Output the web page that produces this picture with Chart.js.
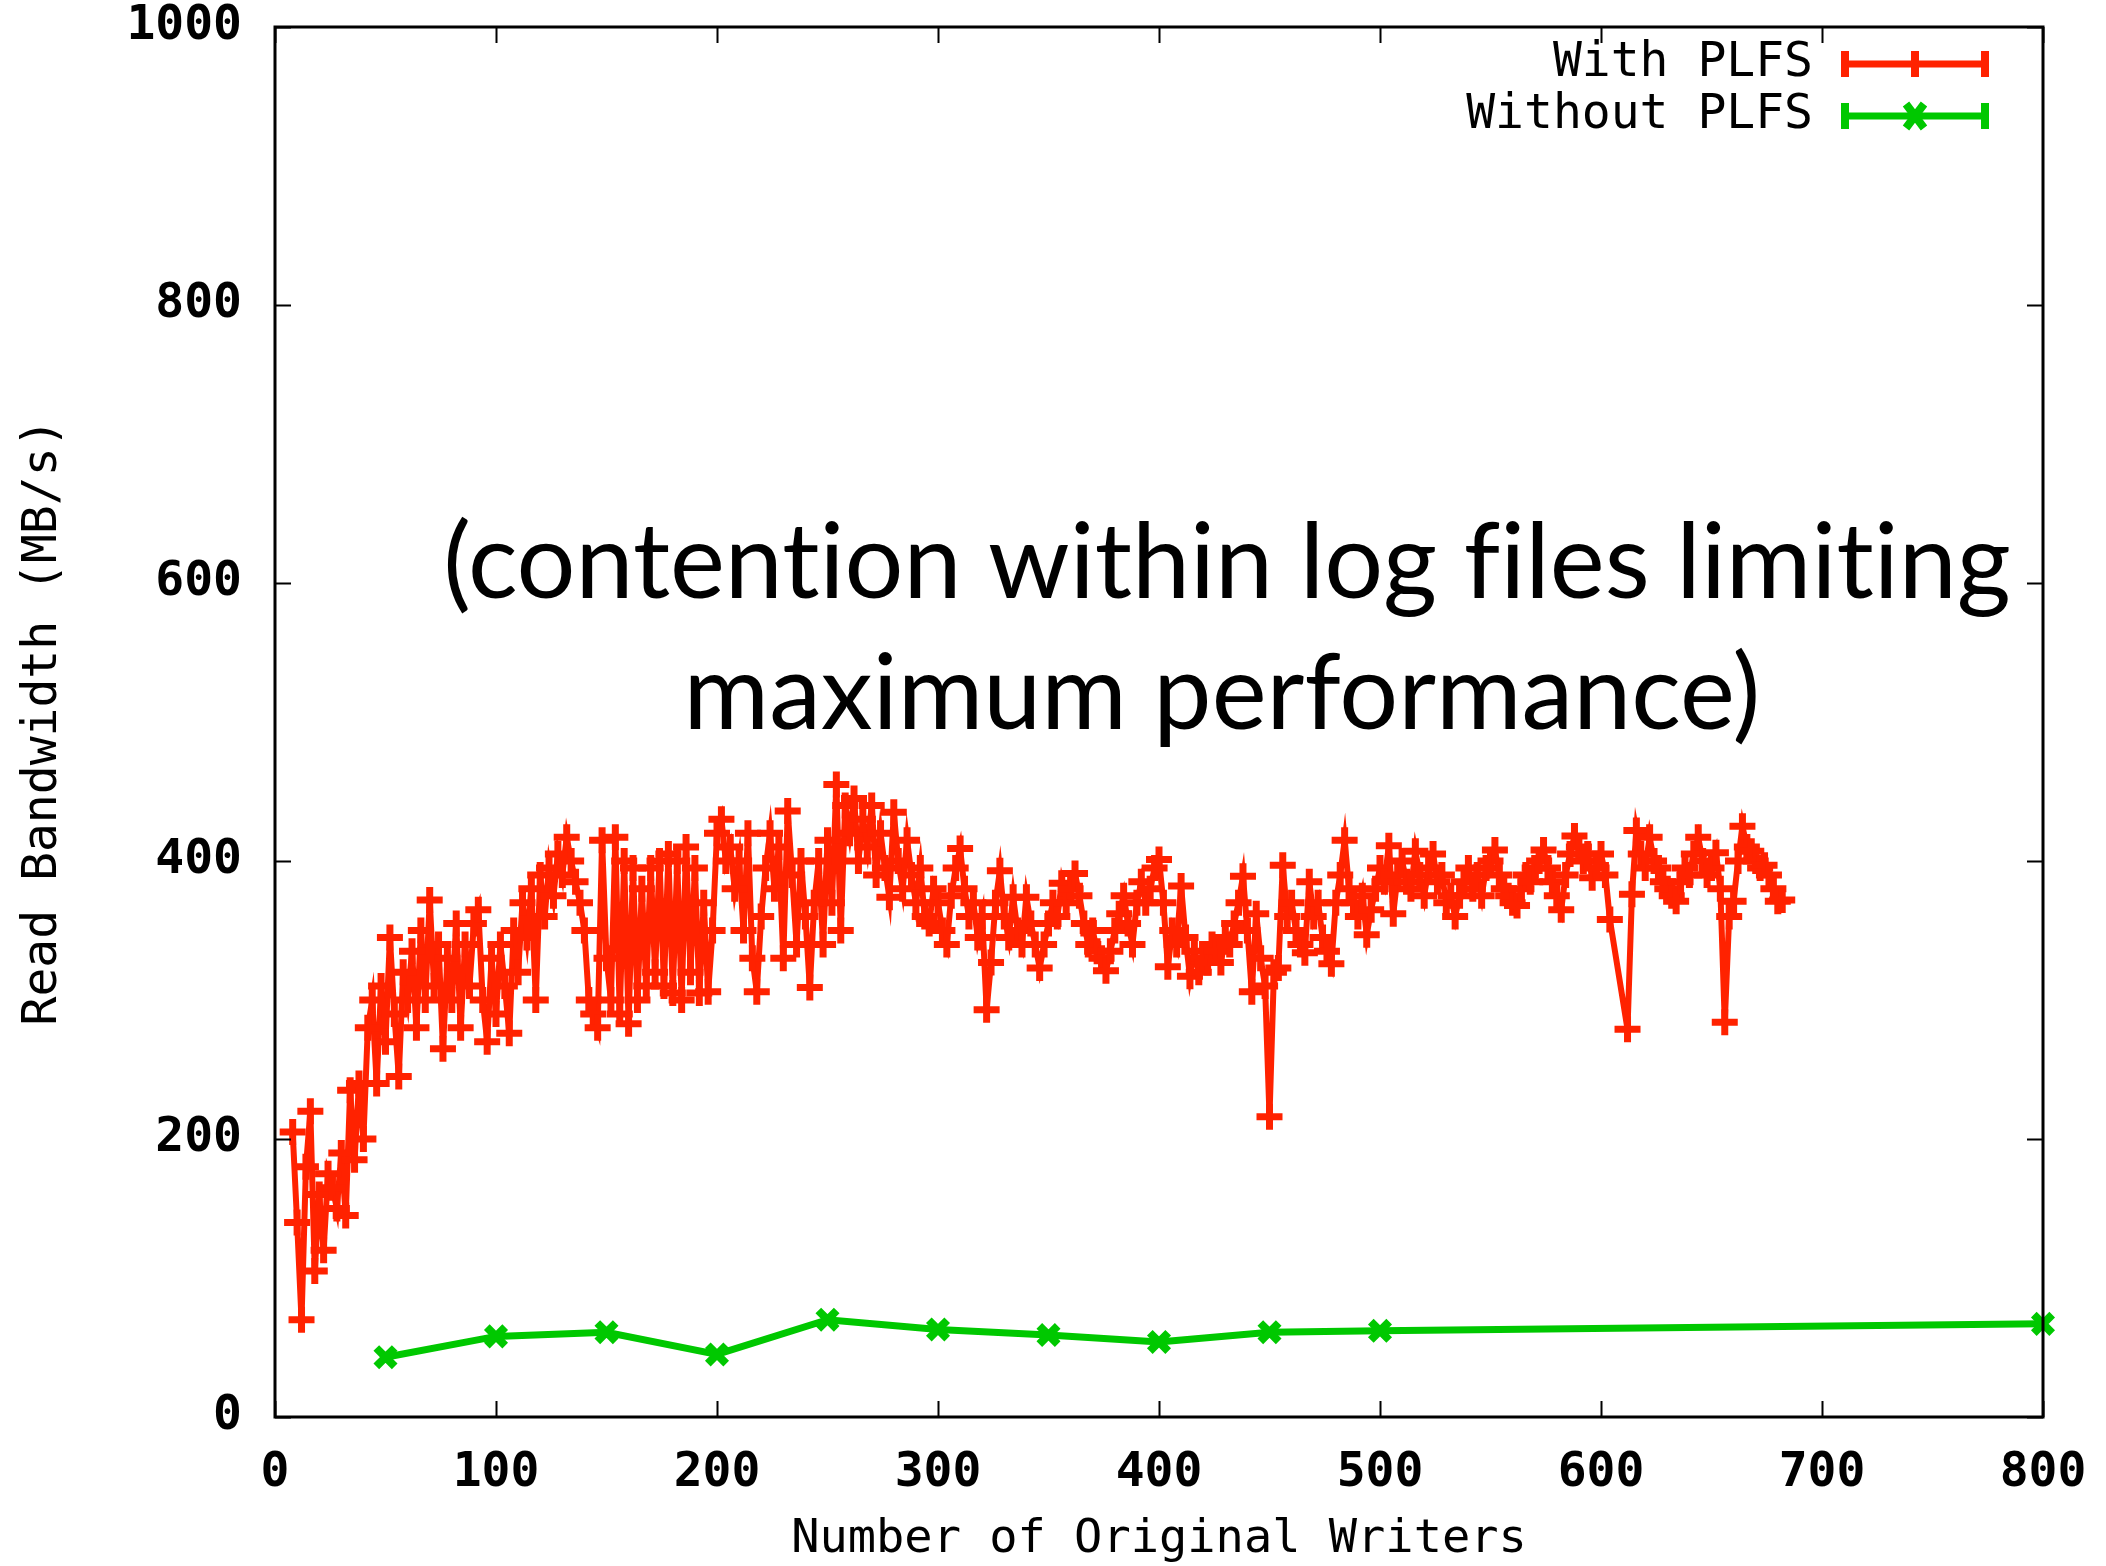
<!DOCTYPE html>
<html>
<head>
<meta charset="utf-8">
<script src="https://cdn.jsdelivr.net/npm/chart.js@4.4.0/dist/chart.umd.min.js"></script>
<style>
  html, body { margin: 0; padding: 0; background: #fff; }
  #wrap { width: 2106px; height: 1566px; }
</style>
</head>
<body>
<div id="wrap"><canvas id="plfsChart" width="2106" height="1566"></canvas></div>
<script>
// data
const withWriters = [
  8, 10, 12, 14, 16, 18, 20, 22, 24, 26,
  28, 30, 32, 34, 36, 38, 40, 42, 44, 46,
  48, 50, 52, 54, 56, 58, 60, 62, 64, 66,
  68, 70, 72, 74, 76, 78, 80, 82, 84, 86,
  88, 90, 92, 94, 96, 98, 100, 102, 104, 106,
  108, 110, 112, 114, 116, 118, 120, 122, 124, 126,
  128, 130, 132, 134, 136, 138, 140, 142, 144, 146,
  148, 150, 152, 154, 156, 158, 160, 162, 164, 166,
  168, 170, 172, 174, 176, 178, 180, 182, 184, 186,
  188, 190, 192, 194, 196, 198, 200, 202, 204, 206,
  208, 210, 212, 214, 216, 218, 220, 222, 224, 226,
  228, 230, 232, 234, 236, 238, 240, 242, 244, 246,
  248, 250, 252, 254, 256, 258, 260, 262, 264, 266,
  268, 270, 272, 274, 276, 278, 280, 282, 284, 286,
  288, 290, 292, 294, 296, 298, 300, 302, 304, 306,
  308, 310, 312, 314, 316, 318, 320, 322, 324, 326,
  328, 330, 332, 334, 336, 338, 340, 342, 344, 346,
  348, 350, 352, 354, 356, 358, 360, 362, 364, 366,
  368, 370, 372, 374, 376, 378, 380, 382, 384, 386,
  388, 390, 392, 394, 396, 398, 400, 402, 404, 406,
  408, 410, 412, 414, 416, 418, 420, 422, 424, 426,
  428, 430, 432, 434, 436, 438, 440, 442, 444, 446,
  448, 450, 452, 454, 456, 458, 460, 462, 464, 466,
  468, 470, 472, 474, 476, 478, 480, 482, 484, 486,
  488, 490, 492, 494, 496, 498, 500, 502, 504, 506,
  508, 510, 512, 514, 516, 518, 520, 522, 524, 526,
  528, 530, 532, 534, 536, 538, 540, 542, 544, 546,
  548, 550, 552, 554, 556, 558, 560, 562, 564, 566,
  568, 570, 572, 574, 576, 578, 580, 582, 584, 586,
  588, 590, 592, 594, 596, 598, 600, 602, 604,
  612, 614, 616, 618, 620, 622, 624, 626, 628, 630,
  632, 634, 636, 638, 640, 642, 644, 646, 648, 650,
  652, 654, 656, 658, 660, 662, 664, 666, 668, 670,
  672, 674, 676, 678, 680, 682
];
const withBandwidth = [
  205, 140, 70, 180, 220, 105, 160, 120, 175, 165,
  150, 190, 145, 235, 185, 240, 200, 280, 300, 240,
  310, 270, 345, 290, 245, 320, 300, 335, 280, 350,
  300, 372, 310, 340, 265, 330, 300, 355, 280, 340,
  310, 355, 365, 300, 270, 330, 290, 340, 310, 276,
  350, 320, 370, 345, 380, 300, 390, 360, 395, 375,
  405, 390, 417, 400, 385, 370, 350, 300, 290, 280,
  415, 330, 300, 417, 290, 400, 283, 395, 300, 380,
  310, 395, 320, 400, 310, 405, 305, 400, 300, 410,
  320, 395, 305, 370, 306, 350, 420, 430, 400, 410,
  380, 400, 350, 420, 330, 306, 360, 395, 420, 380,
  410, 330, 436, 390, 340, 400, 360, 309, 370, 400,
  340, 415, 370, 455, 350, 440, 420, 445, 400, 430,
  410, 440, 390, 420, 395, 374, 435, 400, 380, 415,
  390, 370, 395, 360, 355, 380, 370, 350, 340, 375,
  395, 409, 380, 360, 370, 345, 360, 293, 327, 370,
  393, 360, 345, 374, 350, 340, 374, 355, 340, 323,
  340, 355, 370, 360, 384, 370, 380, 391, 375, 355,
  340, 350, 335, 330, 321, 335, 350, 362, 375, 355,
  340, 370, 385, 370, 380, 395, 401, 370, 324, 350,
  340, 382, 345, 317, 335, 320, 330, 327, 340, 335,
  327, 345, 340, 355, 370, 389, 350, 306, 362, 330,
  310, 216, 320, 323, 397, 360, 370, 350, 340, 334,
  385, 360, 370, 345, 335, 326, 370, 390, 415, 380,
  370, 360, 375, 347, 365, 380, 395, 385, 411, 362,
  390, 400, 385, 380, 407, 390, 375, 395, 405, 385,
  390, 370, 375, 360, 375, 385, 395, 380, 390, 375,
  395, 400, 408, 390, 380, 375, 370, 368, 380, 390,
  385, 395, 400, 408, 395, 385, 375, 365, 390, 405,
  418, 410, 400, 405, 388, 395, 405, 390, 358,
  279, 376, 422, 405, 395, 417, 400, 395, 385, 380,
  375, 371, 385, 395, 390, 405, 417, 400, 390, 395,
  406, 380, 284, 360, 371, 400, 425, 410, 407, 400,
  395, 397, 390, 380, 371, 372
];
const withoutWriters = [50, 100, 150, 200, 250, 300, 350, 400, 450, 500, 800];
const withoutBandwidth = [43, 58, 61, 45, 70, 63, 59, 54, 61, 62, 67];

const xTicks = [0, 100, 200, 300, 400, 500, 600, 700, 800];
const yTicks = [0, 200, 400, 600, 800, 1000];
const noteLines = ['(contention within log files limiting', 'maximum performance)'];

const toPoints = (xs, ys) => xs.map((x, i) => ({ x: x, y: ys[i] }));

const tickFont = { family: 'DejaVu Sans Mono', size: 48, weight: 'bold', lineHeight: 1 };

// gnuplot style box with inward ticks on all four sides
const framePlugin = {
    id: 'frame',
    afterDatasetsDraw(chart) {
        const { ctx: c, chartArea: a, scales: { x, y } } = chart;
        c.save();
        c.strokeStyle = '#000';
        c.lineWidth = 3;
        c.strokeRect(a.left, a.top, a.right - a.left, a.bottom - a.top);
        c.lineWidth = 2;
        c.beginPath();
        xTicks.forEach(v => {
            const px = Math.round(x.getPixelForValue(v)) + 0.5;
            c.moveTo(px, a.bottom); c.lineTo(px, a.bottom - 16);
            c.moveTo(px, a.top); c.lineTo(px, a.top + 16);
        });
        yTicks.forEach(v => {
            const py = Math.round(y.getPixelForValue(v)) + 0.5;
            c.moveTo(a.left, py); c.lineTo(a.left + 16, py);
            c.moveTo(a.right, py); c.lineTo(a.right - 16, py);
        });
        c.stroke();
        c.restore();
    }
};

// legend in the top right corner, text right aligned then a sample
const keyPlugin = {
    id: 'key',
    afterDraw(chart) {
        const c = chart.ctx;
        const a = chart.chartArea;
        c.save();
        c.font = '48px "DejaVu Sans Mono"';
        c.textAlign = 'right';
        c.textBaseline = 'middle';
        chart.data.datasets.forEach((ds, i) => {
            const yy = a.top + 37 + i * 52;
            const x0 = a.right - 198, x1 = a.right - 58, xm = (x0 + x1) / 2;
            c.fillStyle = '#000';
            c.fillText(ds.label, a.right - 230, yy);
            c.strokeStyle = ds.borderColor;
            c.lineWidth = 7;
            c.beginPath();
            c.moveTo(x0, yy); c.lineTo(x1, yy);
            c.stroke();
            c.lineWidth = 8;
            c.beginPath();
            c.moveTo(x0, yy - 13); c.lineTo(x0, yy + 13);
            c.moveTo(x1, yy - 13); c.lineTo(x1, yy + 13);
            if (ds.pointStyle === 'cross') {
                c.moveTo(xm, yy - 13); c.lineTo(xm, yy + 13);
            } else {
                c.moveTo(xm - 9, yy - 12); c.lineTo(xm + 9, yy + 12);
                c.moveTo(xm + 9, yy - 12); c.lineTo(xm - 9, yy + 12);
            }
            c.stroke();
        });
        c.restore();
    }
};

// the big annotation over the plot
const notePlugin = {
    id: 'note',
    afterDraw(chart) {
        const c = chart.ctx;
        c.save();
        c.letterSpacing = '0.01px';
        c.font = '100px Lato';
        const w = c.measureText(noteLines[0]).width;
        const size = 100 * 1568 / w;
        c.font = size.toFixed(1) + 'px Lato';
        c.fillStyle = '#000';
        c.textAlign = 'center';
        c.textBaseline = 'alphabetic';
        c.fillText(noteLines[0], 1227, 598);
        c.fillText(noteLines[1], 1222, 729);
        c.restore();
    }
};

const ctx = document.getElementById('plfsChart').getContext('2d');
const plfsChart = new Chart(ctx, {
    type: 'line',
    data: {
        datasets: [{
            label: 'With PLFS',
            data: toPoints(withWriters, withBandwidth),
            borderColor: '#ff2200',
            backgroundColor: '#ff2200',
            borderWidth: 6,
            pointStyle: 'cross',
            pointRadius: 13,
            pointBorderWidth: 7,
            tension: 0,
            fill: false
        }, {
            label: 'Without PLFS',
            data: toPoints(withoutWriters, withoutBandwidth),
            borderColor: '#00c800',
            backgroundColor: '#00c800',
            borderWidth: 7,
            pointStyle: 'crossRot',
            pointRadius: 13,
            pointBorderWidth: 8,
            tension: 0,
            fill: false,
            clip: false
        }]
    },
    options: {
        responsive: false,
        animation: false,
        devicePixelRatio: 1,
        layout: { padding: { top: 27, right: 63, left: 0, bottom: 0 } },
        scales: {
            x: {
                type: 'linear',
                min: 0,
                max: 800,
                afterBuildTicks: s => { s.ticks = xTicks.map(v => ({ value: v })); },
                afterFit: s => { s.height = 149; },
                ticks: { font: tickFont, color: '#000', padding: 0, maxRotation: 0, callback: v => String(v) },
                grid: { display: false, drawTicks: true, tickLength: 33 },
                border: { display: false },
                title: {
                    display: true,
                    text: 'Number of Original Writers',
                    font: { family: 'DejaVu Sans Mono', size: 47, lineHeight: 1.1 },
                    color: '#000',
                    padding: { top: 0, bottom: 0 }
                }
            },
            y: {
                min: 0,
                max: 1000,
                afterBuildTicks: s => { s.ticks = yTicks.map(v => ({ value: v })); },
                afterFit: s => { s.width = 275; },
                ticks: { font: tickFont, color: '#000', padding: 0, callback: v => String(v) },
                grid: { display: false, drawTicks: true, tickLength: 33 },
                border: { display: false },
                title: {
                    display: true,
                    text: 'Read Bandwidth (MB/s)',
                    font: { family: 'DejaVu Sans Mono', size: 48, lineHeight: 1 },
                    color: '#000',
                    padding: { top: 20, bottom: 0 }
                }
            }
        },
        plugins: {
            legend: { display: false },
            tooltip: { enabled: false }
        }
    },
    plugins: [framePlugin, keyPlugin, notePlugin]
});
</script>
</body>
</html>
